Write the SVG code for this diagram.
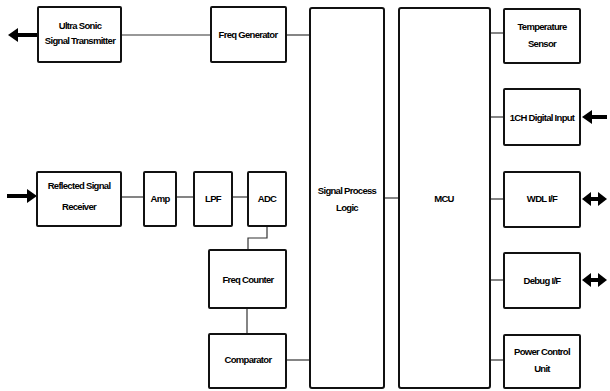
<svg xmlns="http://www.w3.org/2000/svg" width="610" height="391" viewBox="0 0 610 391">
<style>
.box{fill:#fff;stroke:#111;stroke-width:2}
.ln{fill:none;stroke:#333;stroke-width:1.2}
.ar{fill:none;stroke:#000;stroke-width:4}
.hd{fill:#000}
.t{font-family:"Liberation Sans",Arial,sans-serif;font-weight:bold;font-size:9.5px;letter-spacing:-0.7px;text-anchor:middle;fill:#000}
</style>
<rect width="610" height="391" fill="#fff"/>
<g id="connectors">
<line class="ln" x1="121" y1="35" x2="211" y2="35"/>
<line class="ln" x1="286" y1="35" x2="310" y2="35"/>
<line class="ln" x1="121" y1="197" x2="144" y2="197"/>
<line class="ln" x1="176" y1="197" x2="194" y2="197"/>
<line class="ln" x1="232" y1="197" x2="248" y2="197"/>
<polyline class="ln" points="267,226 267,238 248,238 248,250"/>
<line class="ln" x1="247" y1="308" x2="247" y2="334"/>
<line class="ln" x1="286" y1="360" x2="310" y2="360"/>
<line class="ln" x1="384" y1="198" x2="399" y2="198"/>
<line class="ln" x1="490" y1="33" x2="504" y2="33"/>
<line class="ln" x1="490" y1="117" x2="504" y2="117"/>
<line class="ln" x1="490" y1="199" x2="504" y2="199"/>
<line class="ln" x1="490" y1="280" x2="504" y2="280"/>
<line class="ln" x1="490" y1="360" x2="504" y2="360"/>
<line class="ar" x1="38" y1="35" x2="17" y2="35"/>
<polygon class="hd" points="8,35 18,28 18,42"/>
<line class="ar" x1="7" y1="196" x2="28" y2="196"/>
<polygon class="hd" points="37,196 27,189 27,203"/>
<line class="ar" x1="607" y1="117" x2="591" y2="117"/>
<polygon class="hd" points="582,117 592,110 592,124"/>
<line class="ar" x1="590" y1="199" x2="599" y2="199"/>
<polygon class="hd" points="582,199 591,192 591,206"/>
<polygon class="hd" points="607,199 598,192 598,206"/>
<line class="ar" x1="590" y1="280" x2="599" y2="280"/>
<polygon class="hd" points="582,280 591,273 591,287"/>
<polygon class="hd" points="607,280 598,273 598,287"/>
</g>
<g id="transmitter"><rect class="box" x="38" y="7" width="83" height="55" rx="1"/><text class="t" x="80" y="29">Ultra Sonic</text><text class="t" x="80" y="44">Signal Transmitter</text></g>
<g id="freq-generator"><rect class="box" x="211" y="7" width="75" height="55" rx="1"/><text class="t" x="248" y="38">Freq Generator</text></g>
<g id="signal-process"><rect class="box" x="310" y="8" width="74" height="380" rx="2"/><text class="t" x="347" y="194">Signal Process</text><text class="t" x="347" y="211">Logic</text></g>
<g id="mcu"><rect class="box" x="399" y="8" width="91" height="380" rx="2"/><text class="t" x="444" y="202">MCU</text></g>
<g id="temperature"><rect class="box" x="504" y="9" width="76" height="54" rx="1"/><text class="t" x="542" y="30">Temperature</text><text class="t" x="542" y="47">Sensor</text></g>
<g id="digital-input"><rect class="box" x="504" y="89" width="76" height="56" rx="1"/><text class="t" x="542" y="121">1CH Digital Input</text></g>
<g id="receiver"><rect class="box" x="37" y="172" width="84" height="54" rx="1"/><text class="t" x="79" y="189">Reflected Signal</text><text class="t" x="79" y="210">Receiver</text></g>
<g id="amp"><rect class="box" x="144" y="172" width="32" height="54" rx="1"/><text class="t" x="160" y="202">Amp</text></g>
<g id="lpf"><rect class="box" x="194" y="172" width="38" height="54" rx="1"/><text class="t" x="213" y="202">LPF</text></g>
<g id="adc"><rect class="box" x="248" y="172" width="38" height="54" rx="1"/><text class="t" x="267" y="202">ADC</text></g>
<g id="freq-counter"><rect class="box" x="209" y="250" width="77" height="58" rx="1"/><text class="t" x="248" y="283">Freq Counter</text></g>
<g id="comparator"><rect class="box" x="209" y="334" width="77" height="54" rx="1"/><text class="t" x="248" y="363">Comparator</text></g>
<g id="wdl"><rect class="box" x="504" y="172" width="76" height="55" rx="1"/><text class="t" x="542" y="202">WDL I/F</text></g>
<g id="debug"><rect class="box" x="504" y="253" width="76" height="55" rx="1"/><text class="t" x="542" y="284">Debug I/F</text></g>
<g id="power"><rect class="box" x="504" y="335" width="76" height="53" rx="1"/><text class="t" x="542" y="355">Power Control</text><text class="t" x="542" y="372">Unit</text></g>
</svg>
